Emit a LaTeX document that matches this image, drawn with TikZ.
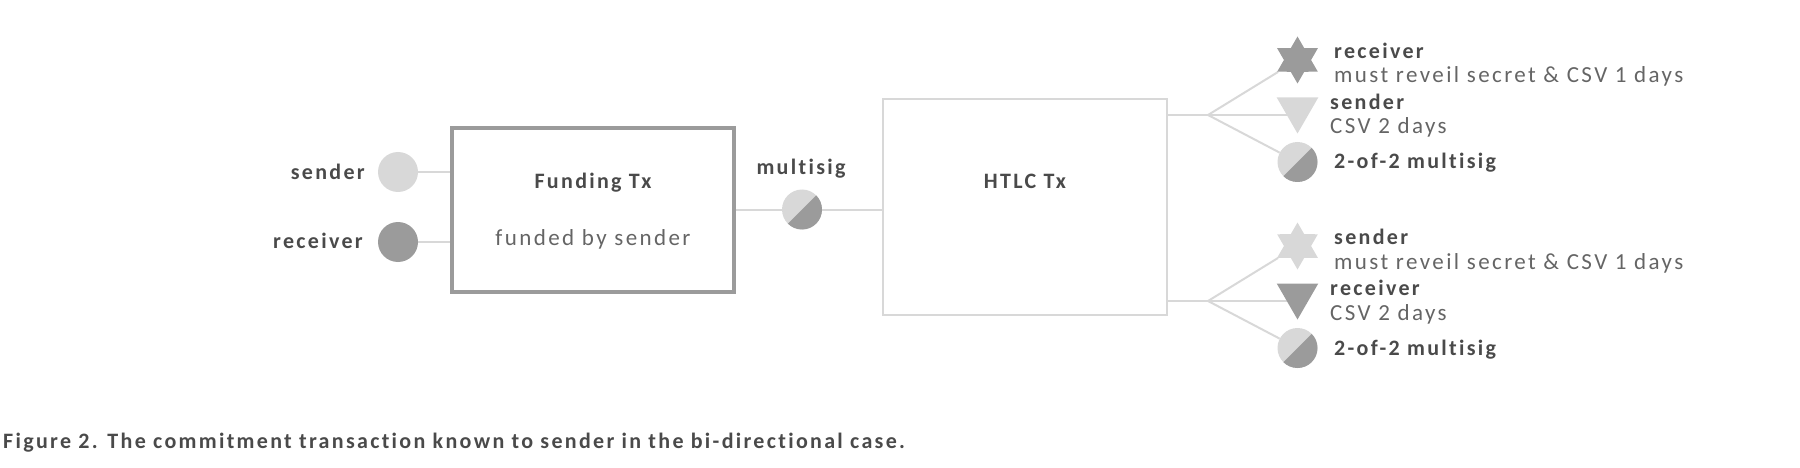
\documentclass[tikz,border=0pt]{standalone}
\usepackage{fontspec}
\setmainfont{Carlito}[LetterSpace=10.5,Ligatures=NoCommon]
\usetikzlibrary{shapes.geometric,backgrounds}
\definecolor{lightgr}{HTML}{D8D8D8}
\definecolor{darkgr}{HTML}{9B9B9B}
\definecolor{inkgr}{HTML}{4A4A4A}
\tikzset{
  disc/.style={circle,minimum size=40pt,inner sep=0pt},
  splitdisc/.style={disc,fill=lightgr,path picture={\fill[darkgr]
    (path picture bounding box.north east) -- (path picture bounding box.south west)
    -- (path picture bounding box.south east) -- cycle;}},
  hexstar/.style={star,star points=6,star point ratio=1.732,minimum size=47pt,inner sep=0pt},
  downtri/.style={regular polygon,regular polygon sides=3,shape border rotate=180,minimum size=48pt,inner sep=0pt},
  wire/.style={draw=lightgr,line width=2pt},
  head/.style={inkgr,inner sep=0pt,font=\fontsize{22}{26}\selectfont\bfseries},
  note/.style={inkgr!85,inner sep=0pt,font=\fontsize{23}{27}\selectfont}
}
\begin{document}
\begin{tikzpicture}[x=1pt,y=-1pt]
\useasboundingbox (0,0) rectangle (1800,468);

\node[disc,fill=lightgr] (sender) at (398,172) {};
\node[disc,fill=darkgr] (receiver) at (398,242) {};
\node[draw=darkgr,line width=4pt,minimum width=282pt,minimum height=163pt,inner sep=0pt] (funding) at (593,210) {};
\node[splitdisc] (multisig) at (802,209.5) {};
\node[draw=lightgr,line width=2pt,minimum width=284pt,minimum height=215pt,inner sep=0pt] (htlc) at (1025,207) {};

\node[head,anchor=base east] (senderlabel) at (365,179) {sender};
\node[head,anchor=base east] (receiverlabel) at (363,248) {receiver};
\node[head,anchor=base] (fundingtitle) at (593,189) {Funding Tx};
\node[note,anchor=base] (fundingnote) at (593,245) {funded by sender};
\node[head,anchor=base] (multisiglabel) at (801,175) {multisig};
\node[head,anchor=base] (htlctitle) at (1025,189) {HTLC Tx};

% upper outputs
\coordinate (forkA) at (1208,115);
\node[hexstar,fill=darkgr] (starA) at (1297.5,60) {};
\node[downtri,fill=lightgr] (triA) at (1297.5,109.5) {};
\node[splitdisc] (discA) at (1297.5,162) {};
\node[head,anchor=base west] (starAhead) at (1334,59) {receiver};
\node[note,anchor=base west] (starAnote) at (1334,83) {must reveil secret \& CSV 1 days};
\node[head,anchor=base west] (triAhead) at (1330,110) {sender};
\node[note,anchor=base west] (triAnote) at (1330,134) {CSV 2 days};
\node[head,anchor=base west] (discAlabel) at (1334,169) {2-of-2 multisig};

% lower outputs
\coordinate (forkB) at (1208,301);
\node[hexstar,fill=lightgr] (starB) at (1297.5,246) {};
\node[downtri,fill=darkgr] (triB) at (1297.5,295.5) {};
\node[splitdisc] (discB) at (1297.5,348) {};
\node[head,anchor=base west] (starBhead) at (1334,244) {sender};
\node[note,anchor=base west] (starBnote) at (1334,269) {must reveil secret \& CSV 1 days};
\node[head,anchor=base west] (triBhead) at (1330,295) {receiver};
\node[note,anchor=base west] (triBnote) at (1330,320) {CSV 2 days};
\node[head,anchor=base west] (discBlabel) at (1334,355) {2-of-2 multisig};

\node[head,anchor=base west] (caption) at (3,448) {Figure 2. The commitment transaction known to sender in the bi-directional case.};

\begin{pgfonlayer}{background}
\draw[wire] (sender) -- (sender -| funding.west);
\draw[wire] (receiver) -- (receiver -| funding.west);
\draw[wire] (multisig -| funding.east) -- (multisig);
\draw[wire] (multisig) -- (multisig -| htlc.west);
\draw[wire] (forkA -| htlc.east) -- (forkA);
\draw[wire] (forkB -| htlc.east) -- (forkB);
\draw[wire] (forkA) -- (starA);
\draw[wire] (forkA) -- (forkA -| triA);
\draw[wire] (forkA) -- (discA);
\draw[wire] (forkB) -- (starB);
\draw[wire] (forkB) -- (forkB -| triB);
\draw[wire] (forkB) -- (discB);
\end{pgfonlayer}
\end{tikzpicture}
\end{document}
